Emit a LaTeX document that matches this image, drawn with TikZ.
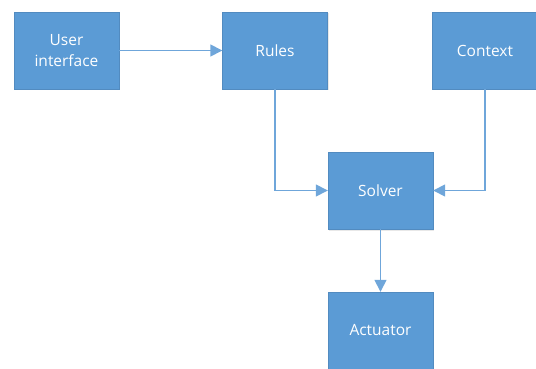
\documentclass[tikz,border=0pt]{standalone}
\usepackage{fontspec}
\setmainfont{Open Sans}
\usepackage{tikz}
\usetikzlibrary{arrows.meta,positioning,calc,shadows}
\definecolor{boxblue}{HTML}{5B9BD5}
\definecolor{lineblue}{HTML}{6FA6DA}

\begin{document}
\begin{tikzpicture}[x=1pt,y=-1pt,
		blk/.style={fill=boxblue,draw=boxblue!90!black,line width=0.4pt,minimum width=105pt,minimum height=77pt,text=white,font=\fontsize{15.5}{21}\selectfont,align=center,inner sep=0pt,drop shadow={shadow xshift=1pt,shadow yshift=-1.5pt,opacity=0.18}},
		link/.style={draw=lineblue,line width=1.5pt,-{Triangle[length=12pt,width=12pt]}}]
				\useasboundingbox (0,0) rectangle (536,369);
				\node[blk] (ui) at (66.5,50.5) {User\\interface};
				\node[blk] (rules) at (275,50.5) {Rules};
				\node[blk] (context) at (485,50.5) {Context};
				\node[blk] (solver) at (380.5,190.5) {Solver};
				\node[blk] (actuator) at (380.5,330.5) {Actuator};
				\draw[link] (ui) -- (rules);
				\draw[link] (rules.south) |- (solver.west);
				\draw[link] (context.south) |- (solver.east);
				\draw[link] (solver) -- (actuator);
				\end{tikzpicture}
\end{document}
